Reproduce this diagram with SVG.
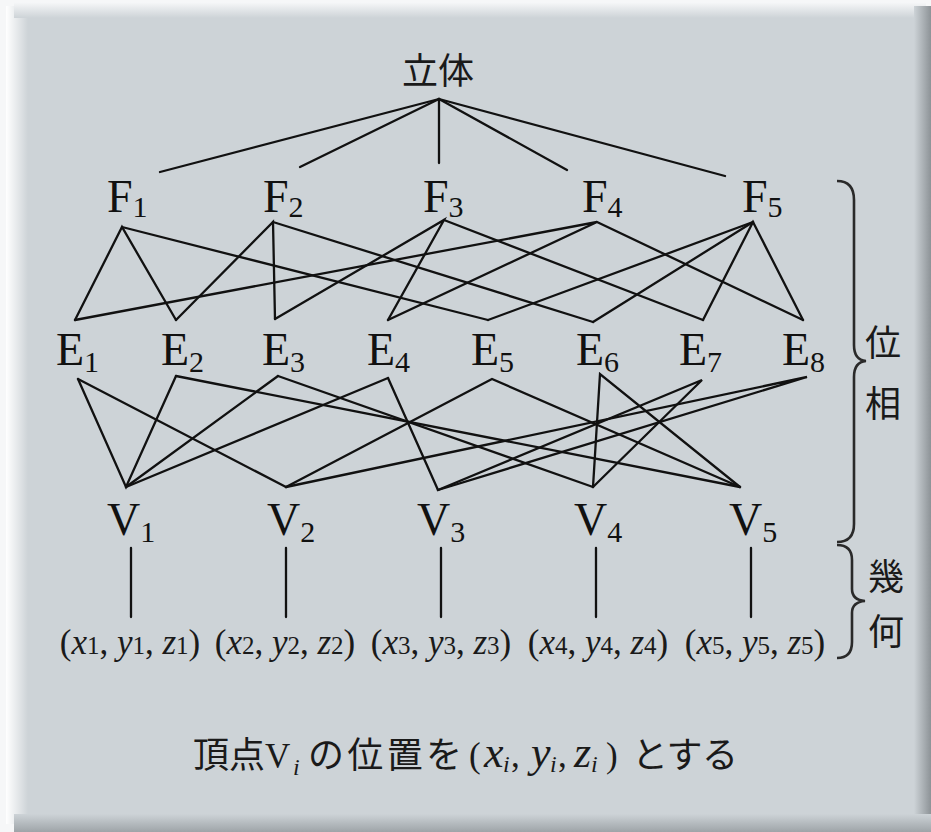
<svg xmlns="http://www.w3.org/2000/svg" width="931" height="832" viewBox="0 0 931 832">
<defs>
<linearGradient id="gL" x1="0" y1="0" x2="1" y2="0"><stop offset="0" stop-color="#ffffff"/><stop offset="1" stop-color="#cdd3d7"/></linearGradient>
<linearGradient id="gT" x1="0" y1="0" x2="0" y2="1"><stop offset="0" stop-color="#f7f8f9"/><stop offset="1" stop-color="#cdd3d7"/></linearGradient>
<linearGradient id="gR" x1="0" y1="0" x2="1" y2="0"><stop offset="0" stop-color="#cdd3d7"/><stop offset="1" stop-color="#8d9397"/></linearGradient>
<linearGradient id="gB" x1="0" y1="0" x2="0" y2="1"><stop offset="0" stop-color="#cdd3d7"/><stop offset="1" stop-color="#9ea4a8"/></linearGradient>
<style>
.lbl{font-family:"Liberation Serif","Times New Roman",serif;font-size:46px;fill:#111}
.sub{font-size:30px}
.cjk{font-family:"Noto Sans CJK JP","Noto Sans CJK SC",sans-serif;font-size:36px;fill:#1a1a1a}
.co{font-family:"Liberation Serif","Times New Roman",serif;font-size:35px;fill:#1a1a1a}
.it{font-style:italic}
.cs{font-size:25px}
.ci{font-size:24px;font-style:italic}
.ln{stroke:#111;stroke-width:2.3;fill:none;stroke-linecap:round}
.br{stroke:#2a2a2a;stroke-width:2.6;fill:none}
</style>
</defs>
<rect x="0" y="0" width="931" height="832" fill="#f6f7f8"/>
<rect x="14" y="6" width="912" height="818" fill="#cdd3d7"/>
<rect x="6" y="6" width="22" height="818" fill="url(#gL)"/>
<rect x="14" y="2" width="912" height="16" fill="url(#gT)"/>
<rect x="914" y="6" width="17" height="826" fill="url(#gR)"/>
<rect x="14" y="814" width="917" height="18" fill="url(#gB)"/>

<g id="connectors" class="ln">
<line x1="439" y1="99" x2="160" y2="172"/>
<line x1="439" y1="99" x2="300" y2="167"/>
<line x1="439" y1="99" x2="439" y2="163"/>
<line x1="439" y1="99" x2="567" y2="170"/>
<line x1="439" y1="99" x2="725" y2="176"/>

<polyline points="75,320 122,227 176,320"/>
<line x1="122" y1="227" x2="488" y2="320"/>
<polyline points="176,320 273,222 275,319"/>
<line x1="273" y1="222" x2="593" y2="322"/>
<polyline points="275,319 444,220 388,320"/>
<line x1="444" y1="220" x2="703" y2="320"/>
<polyline points="75,320 597,222 388,320"/>
<line x1="597" y1="222" x2="803" y2="320"/>
<line x1="753" y1="222" x2="488" y2="320"/>
<line x1="753" y1="222" x2="593" y2="322"/>
<polyline points="703,320 753,222 803,320"/>

<polyline points="78,379 126,487 176,376"/>
<line x1="126" y1="487" x2="278" y2="376"/>
<line x1="126" y1="487" x2="388" y2="378"/>
<line x1="78" y1="379" x2="286" y2="487"/>
<line x1="176" y1="376" x2="740" y2="487"/>
<line x1="278" y1="376" x2="593" y2="487"/>
<line x1="388" y1="378" x2="438" y2="490"/>
<polyline points="286,487 492,379 740,487"/>
<polyline points="593,487 600,374 740,487"/>
<polyline points="438,490 702,380 593,487"/>
<polyline points="286,487 807,377 438,490"/>

<line x1="131" y1="548" x2="131" y2="617"/>
<line x1="286" y1="548" x2="286" y2="617"/>
<line x1="441" y1="548" x2="441" y2="617"/>
<line x1="596" y1="548" x2="596" y2="617"/>
<line x1="751" y1="548" x2="751" y2="617"/>
</g>

<g id="solid"><text class="cjk" x="438" y="84" text-anchor="middle">立体</text></g>

<g id="F1"><text class="lbl" x="107" y="212">F<tspan class="sub" dy="5">1</tspan></text></g>
<g id="F2"><text class="lbl" x="263" y="212">F<tspan class="sub" dy="5">2</tspan></text></g>
<g id="F3"><text class="lbl" x="423" y="212">F<tspan class="sub" dy="5">3</tspan></text></g>
<g id="F4"><text class="lbl" x="582" y="212">F<tspan class="sub" dy="5">4</tspan></text></g>
<g id="F5"><text class="lbl" x="742" y="212">F<tspan class="sub" dy="5">5</tspan></text></g>

<g id="E1"><text class="lbl" x="56" y="365">E<tspan class="sub" dy="7">1</tspan></text></g>
<g id="E2"><text class="lbl" x="161" y="365">E<tspan class="sub" dy="7">2</tspan></text></g>
<g id="E3"><text class="lbl" x="262" y="365">E<tspan class="sub" dy="7">3</tspan></text></g>
<g id="E4"><text class="lbl" x="367" y="365">E<tspan class="sub" dy="7">4</tspan></text></g>
<g id="E5"><text class="lbl" x="471" y="365">E<tspan class="sub" dy="7">5</tspan></text></g>
<g id="E6"><text class="lbl" x="576" y="365">E<tspan class="sub" dy="7">6</tspan></text></g>
<g id="E7"><text class="lbl" x="679" y="365">E<tspan class="sub" dy="7">7</tspan></text></g>
<g id="E8"><text class="lbl" x="782" y="365">E<tspan class="sub" dy="7">8</tspan></text></g>

<g id="V1"><text class="lbl" x="107" y="535">V<tspan class="sub" dy="7">1</tspan></text></g>
<g id="V2"><text class="lbl" x="267" y="535">V<tspan class="sub" dy="7">2</tspan></text></g>
<g id="V3"><text class="lbl" x="417" y="535">V<tspan class="sub" dy="7">3</tspan></text></g>
<g id="V4"><text class="lbl" x="574" y="535">V<tspan class="sub" dy="7">4</tspan></text></g>
<g id="V5"><text class="lbl" x="729" y="535">V<tspan class="sub" dy="7">5</tspan></text></g>

<g id="P1"><text class="co" x="130" y="654" text-anchor="middle">(<tspan class="it">x</tspan><tspan class="cs">1</tspan>, <tspan class="it">y</tspan><tspan class="cs">1</tspan>, <tspan class="it">z</tspan><tspan class="cs">1</tspan>)</text></g>
<g id="P2"><text class="co" x="285" y="654" text-anchor="middle">(<tspan class="it">x</tspan><tspan class="cs">2</tspan>, <tspan class="it">y</tspan><tspan class="cs">2</tspan>, <tspan class="it">z</tspan><tspan class="cs">2</tspan>)</text></g>
<g id="P3"><text class="co" x="441" y="654" text-anchor="middle">(<tspan class="it">x</tspan><tspan class="cs">3</tspan>, <tspan class="it">y</tspan><tspan class="cs">3</tspan>, <tspan class="it">z</tspan><tspan class="cs">3</tspan>)</text></g>
<g id="P4"><text class="co" x="598" y="654" text-anchor="middle">(<tspan class="it">x</tspan><tspan class="cs">4</tspan>, <tspan class="it">y</tspan><tspan class="cs">4</tspan>, <tspan class="it">z</tspan><tspan class="cs">4</tspan>)</text></g>
<g id="P5"><text class="co" x="755" y="654" text-anchor="middle">(<tspan class="it">x</tspan><tspan class="cs">5</tspan>, <tspan class="it">y</tspan><tspan class="cs">5</tspan>, <tspan class="it">z</tspan><tspan class="cs">5</tspan>)</text></g>

<g id="topology">
<path class="br" d="M837,181 Q854,181 854,200 L854,345 Q854,360 866,361 Q854,362 854,377 L854,524 Q854,542 837,542"/>
<text class="cjk" x="883" y="356" text-anchor="middle">位</text>
<text class="cjk" x="883" y="417" text-anchor="middle">相</text>
</g>
<g id="geometry">
<path class="br" d="M837,545 Q852,545 852,560 L852,589 Q852,600 865,601 Q852,602 852,613 L852,642 Q852,658 837,658"/>
<text class="cjk" x="886" y="590" text-anchor="middle">幾</text>
<text class="cjk" x="886" y="645" text-anchor="middle">何</text>
</g>

<g id="caption">
<text class="cjk" x="193" y="768" font-size="37">頂点</text>
<text class="co" x="265" y="768" font-size="40">V</text>
<text class="co ci" x="293" y="775">i</text>
<text class="cjk" x="308" y="768" font-size="37" textLength="154" lengthAdjust="spacing">の位置を</text>
<text class="co" y="767" font-size="42"><tspan x="469">(</tspan><tspan class="it" x="484" font-size="44">x</tspan><tspan class="ci" x="503" dy="5">i</tspan><tspan x="511" dy="-5">,</tspan><tspan class="it" x="531" font-size="44">y</tspan><tspan class="ci" x="550" dy="5">i</tspan><tspan x="558" dy="-5">,</tspan><tspan class="it" x="574" font-size="44">z</tspan><tspan class="ci" x="591" dy="5">i</tspan><tspan x="606" dy="-5">)</tspan></text>
<text class="cjk" x="632" y="768" font-size="37" textLength="106" lengthAdjust="spacing">とする</text>
</g>
</svg>
